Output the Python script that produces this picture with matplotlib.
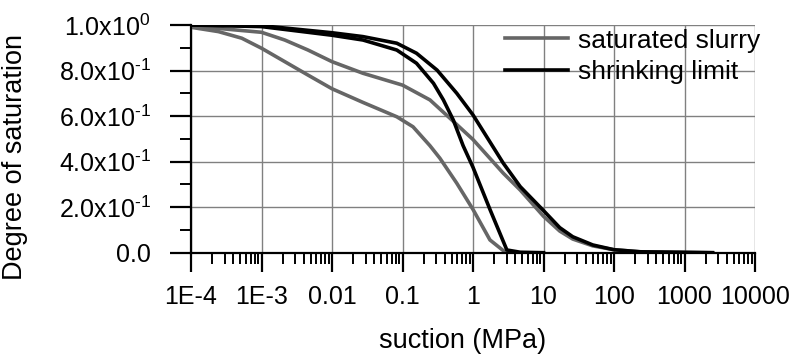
import matplotlib
matplotlib.use("Agg")
import matplotlib.pyplot as plt
from matplotlib.ticker import LogLocator, FixedLocator, MultipleLocator, NullFormatter

plt.rcParams['font.family'] = ['Liberation Sans', 'DejaVu Sans']
plt.rcParams['mathtext.fontset'] = 'custom'
plt.rcParams['mathtext.rm'] = 'Liberation Sans'

# saturated slurry - two branches (suction in MPa, degree of saturation)
slurry_low_s = [1e-4, 2.45e-4, 5.25e-4, 1e-3, 2.14e-3, 4.57e-3, 1e-2, 2.75e-2, 8.3e-2, 0.141,
                0.245, 0.339, 0.589, 1.0, 1.74, 2.82, 3.5]
slurry_low_sr = [0.990, 0.971, 0.942, 0.898, 0.839, 0.780, 0.720, 0.660, 0.597, 0.553,
                 0.470, 0.415, 0.305, 0.190, 0.056, 0.004, 0.0]

slurry_up_s = [1e-4, 2.45e-4, 1e-3, 2.14e-3, 4.57e-3, 1e-2, 2.75e-2, 0.1, 0.245, 0.447,
               1.0, 2.69, 4.68, 10, 17, 26, 50, 100, 234, 2500]
slurry_up_sr = [0.995, 0.985, 0.968, 0.934, 0.890, 0.839, 0.788, 0.736, 0.671, 0.597,
                0.497, 0.349, 0.275, 0.160, 0.095, 0.060, 0.030, 0.013, 0.004, 0.0]

# shrinking limit - two branches
shrink_in_s = [1e-4, 1e-3, 1e-2, 2.75e-2, 8.3e-2, 0.158, 0.275, 0.38, 0.525, 0.724,
               1.0, 1.74, 3.02, 4.68, 10]
shrink_in_sr = [1.0, 0.993, 0.955, 0.934, 0.890, 0.832, 0.744, 0.671, 0.583, 0.470,
                0.375, 0.190, 0.012, 0.002, 0.0]

shrink_out_s = [1e-4, 1e-3, 1e-2, 2.75e-2, 8.3e-2, 0.158, 0.309, 0.589, 1.0, 2.69, 4.68,
                10, 17, 26, 50, 100, 234, 2500]
shrink_out_sr = [1.0, 0.997, 0.966, 0.949, 0.920, 0.876, 0.802, 0.700, 0.605, 0.393, 0.290,
                 0.185, 0.110, 0.070, 0.034, 0.013, 0.004, 0.0]

xtick_vals = [1e-4, 1e-3, 1e-2, 1e-1, 1, 10, 100, 1000, 10000]
xtick_labels = ["1E-4", "1E-3", "0.01", "0.1", "1", "10", "100", "1000", "10000"]
ytick_vals = [0.0, 0.2, 0.4, 0.6, 0.8, 1.0]
ytick_labels = ["0.0", r"2.0x10$^{\text{-1}}$", r"4.0x10$^{\text{-1}}$", r"6.0x10$^{\text{-1}}$",
                r"8.0x10$^{\text{-1}}$", r"1.0x10$^{0}$"]

fig = plt.figure(figsize=(7.93, 3.61), dpi=100)
ax = fig.add_axes([191/793, 1-252.7/361, 564/793, 227.7/361])

gray = "#666666"
ax.plot(slurry_low_s, slurry_low_sr, color=gray, lw=2.6, label="saturated slurry")
ax.plot(slurry_up_s, slurry_up_sr, color=gray, lw=2.6)
ax.plot(shrink_in_s, shrink_in_sr, color="black", lw=2.6, label="shrinking limit")
ax.plot(shrink_out_s, shrink_out_sr, color="black", lw=2.6)

ax.set_xscale("log")
ax.set_xlim(1e-4, 1e4)
ax.set_ylim(0, 1)

ax.xaxis.set_major_locator(FixedLocator(xtick_vals))
ax.set_xticklabels(xtick_labels)
ax.xaxis.set_minor_locator(LogLocator(base=10, subs=range(2, 10), numticks=20))
ax.xaxis.set_minor_formatter(NullFormatter())
ax.set_yticks(ytick_vals)
ax.set_yticklabels(ytick_labels)
ax.yaxis.set_minor_locator(MultipleLocator(0.1))

ax.grid(True, which="major", color="#808080", lw=1.0)
ax.set_axisbelow(True)

for side in ["top", "right"]:
    ax.spines[side].set_visible(False)
for side in ["left", "bottom"]:
    ax.spines[side].set_linewidth(1.6)

ax.tick_params(axis="x", which="major", direction="out", length=14, width=1.6, labelsize=18, pad=9)
ax.tick_params(axis="x", which="minor", direction="out", length=8, width=1.4)
ax.tick_params(axis="y", which="major", direction="out", length=15, width=1.6, labelsize=18, pad=14)
ax.tick_params(axis="y", which="minor", direction="out", length=8, width=1.4)

ax.set_xlabel("suction (MPa)", fontsize=19.5)
ax.xaxis.set_label_coords(0.482, -0.33)
ax.set_ylabel("Degree of saturation", fontsize=19.5)
ax.yaxis.set_label_coords(-0.289, 0.42)

ax.legend(loc="center left", bbox_to_anchor=(505/793, 1-56.5/361), bbox_transform=fig.transFigure,
          frameon=False, fontsize=19, handlelength=2.4, handletextpad=0.35, labelspacing=0.3,
          borderpad=0, borderaxespad=0)

fig.savefig("out.png", dpi=100)
